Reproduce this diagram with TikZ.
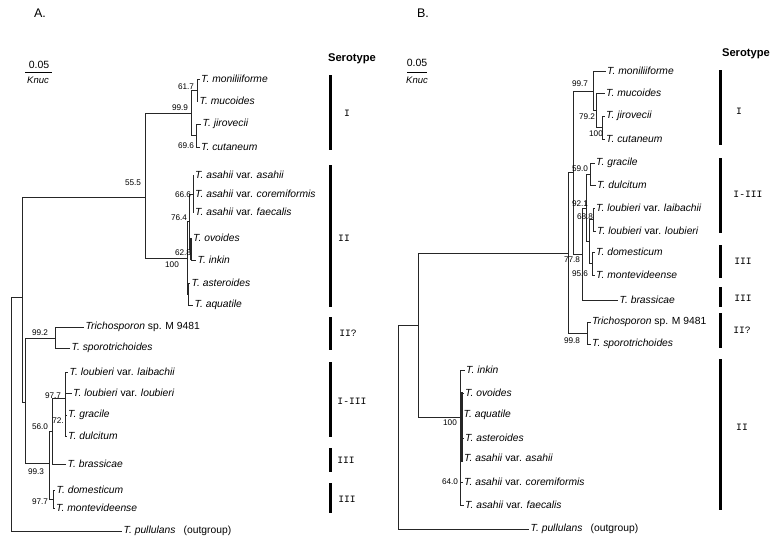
\documentclass[tikz,border=0pt]{standalone}
\usepackage{fontspec}
\setmainfont{Liberation Sans}
\newfontfamily\serofont{Liberation Mono}
\newcommand{\taxit}[1]{\textit{#1}}
\tikzset{
  branch/.style={line width=1pt, black!85, line join=miter},
  thickbranch/.style={line width=1.9pt, black!85},
  taxon/.style={anchor=west, inner sep=1.5pt, font=\fontsize{10.3}{12}\selectfont},
  boot/.style={inner sep=0pt, font=\fontsize{8.2}{9}\selectfont},
  panel/.style={inner sep=0pt, font=\fontsize{12.5}{14}\selectfont},
  scalenum/.style={inner sep=0pt, font=\fontsize{10.5}{12}\selectfont},
  scaleunit/.style={inner sep=0pt, font=\itshape\fontsize{9.5}{11}\selectfont},
  scalebar/.style={line width=0.9pt},
  serohead/.style={inner sep=0pt, font=\bfseries\fontsize{11.2}{13}\selectfont},
  serobar/.style={line width=3pt},
  serolbl/.style={inner sep=0pt, font=\serofont\fontsize{9.7}{11}\selectfont},
}
\begin{document}
\begin{tikzpicture}[x=1pt,y=-1pt]
  \useasboundingbox (0,0) rectangle (778,543);

  % ---------- panel A ----------
  \node[panel] (labA) at (40,13) {A.};
  \node[scalenum] (numA) at (39,65) {0.05};
  \draw[scalebar] (25,72) -- (52,72);
  \node[scaleunit] (unitA) at (38,80) {Knuc};
  \node[serohead] (headA) at (352,59) {Serotype};

  \foreach \n/\x/\y in {aRoot/11/414, a22/22/297, a555/145/197, a999/191/113,
      a617/197/90, a696/196/135.5, a100/187/258, a764/189/221, a666/193/194,
      a628/191/249, aAsAq/188/294, a25/25/402, a992/55/338, a993/49/463,
      a560/52/431, a977/65/398, a72/65.5/425, a977d/53/499}
    \coordinate (\n) at (\x,\y);
  \foreach \p/\c in {aRoot/a22, a22/a555, a22/a25, a555/a999, a555/a100,
      a999/a617, a999/a696, a100/a764, a100/aAsAq, a764/a666, a764/a628,
      a25/a992, a25/a993, a993/a560, a993/a977d, a560/a977, a977/a72}
    \draw[branch] (\p) |- (\c);
  \foreach \p/\n/\x/\y/\t in {
      a617/aMon/199.5/79/\taxit{T. moniliiforme},
      a617/aMuc/198/101/\taxit{T. mucoides},
      a696/aJir/201/124/\taxit{T. jirovecii},
      a696/aCut/199.5/147/\taxit{T. cutaneum},
      a666/aAsa/193.5/175/\taxit{T. asahii} var. \taxit{asahii},
      a666/aCor/193.5/194/\taxit{T. asahii} var. \taxit{coremiformis},
      a666/aFae/193.5/212/\taxit{T. asahii} var. \taxit{faecalis},
      a628/aOvo/191.5/238/\taxit{T. ovoides},
      a628/aInk/196/260/\taxit{T. inkin},
      aAsAq/aAst/190/283/\taxit{T. asteroides},
      aAsAq/aAqu/193/305/\taxit{T. aquatile},
      a992/aTri/84/327/\taxit{Trichosporon} sp. M 9481,
      a992/aSpo/70/348/\taxit{T. sporotrichoides},
      a977/aLai/68/372/\taxit{T. loubieri} var. \taxit{laibachii},
      a977/aLou/71.5/393/\taxit{T. loubieri} var. \taxit{loubieri},
      a72/aGra/66.5/415/\taxit{T. gracile},
      a72/aDul/66.5/436/\taxit{T. dulcitum},
      a560/aBra/66/464/\taxit{T. brassicae},
      a977d/aDom/55/490/\taxit{T. domesticum},
      a977d/aMon2/54.5/508/\taxit{T. montevideense},
      aRoot/aPul/122/531/\taxit{T. pullulans}}
    {\node[taxon] (\n) at (\x,\y) {\t};
     \draw[branch] (\p) |- (\n.west);}
  \node[taxon] (aOutg) at (182,531) {(outgroup)};
  \draw[thickbranch] (a628 |- aOvo.west) -- (a628 |- aInk.west);
  \draw[thickbranch] (a72 |- aGra.west) -- (a72 |- aDul.west);

  \foreach \v/\x/\y [count=\i] in {61.7/186/87, 99.9/180/108, 69.6/186/146,
      55.5/133/183, 66.6/183/195, 76.4/179/218, 62.8/183/253, 100/172/265,
      99.2/40/333, 97.7/53/396, 72./58/421, 56.0/40/427, 99.3/36/472,
      97.7/40/502}
    \node[boot] (bsA\i) at (\x,\y) {\v};

  \foreach \ya/\yb/\t/\lx/\ly [count=\i] in {75/150/I/347/113,
      165/307/II/344/238, 317/350/II?/348/333, 362/437/I-III/352/401,
      448/472/III/346/460, 483/513/III/347/499}
    {\draw[serobar] (330,\ya) -- (330,\yb);
     \node[serolbl] (seroA\i) at (\lx,\ly) {\t};}

  % ---------- panel B ----------
  \node[panel] (labB) at (423,13) {B.};
  \node[scalenum] (numB) at (417,63) {0.05};
  \draw[scalebar] (407,72) -- (427,72);
  \node[scaleunit] (unitB) at (417,80) {Knuc};
  \node[serohead] (headB) at (746,54) {Serotype};

  \foreach \n/\x/\y in {bRoot/398/427, bN418/418/325, bN778/568/253,
      bP/573/172.5, bI/593/91, bM/596/110, bJC/602/127.5, bK/582/254,
      bR/586/208, bG/590/174, bX/589/241.5, bL/593/219.5, bD/592/263.5,
      bTr/587/333, bII/460/417}
    \coordinate (\n) at (\x,\y);
  \foreach \p/\c in {bRoot/bN418, bN418/bN778, bN418/bII, bN778/bP,
      bN778/bTr, bP/bI, bP/bK, bI/bM, bM/bJC, bK/bR, bR/bG, bR/bX,
      bX/bL, bX/bD}
    \draw[branch] (\p) |- (\c);
  \foreach \p/\n/\x/\y/\t in {
      bI/bMon/605.5/71/\taxit{T. moniliiforme},
      bM/bMuc/604.5/93/\taxit{T. mucoides},
      bJC/bJir/604.5/116/\taxit{T. jirovecii},
      bJC/bCut/604.5/139/\taxit{T. cutaneum},
      bG/bGra/594.5/163/\taxit{T. gracile},
      bG/bDul/595.5/185/\taxit{T. dulcitum},
      bL/bLai/594.5/208/\taxit{T. loubieri} var. \taxit{laibachii},
      bL/bLou/595.5/231/\taxit{T. loubieri} var. \taxit{loubieri},
      bD/bDom/594.5/252/\taxit{T. domesticum},
      bD/bMon2/594.5/275/\taxit{T. montevideense},
      bK/bBra/618/300/\taxit{T. brassicae},
      bTr/bTri/590.5/322/\taxit{Trichosporon} sp. M 9481,
      bTr/bSpo/590.5/344/\taxit{T. sporotrichoides},
      bII/bInk/464.5/370/\taxit{T. inkin},
      bII/bOvo/463.5/393/\taxit{T. ovoides},
      bII/bAqu/462/415/\taxit{T. aquatile},
      bII/bAst/463.5/438/\taxit{T. asteroides},
      bII/bAsa/462.5/458/\taxit{T. asahii} var. \taxit{asahii},
      bII/bCor/462.5/482/\taxit{T. asahii} var. \taxit{coremiformis},
      bII/bFae/463.5/505/\taxit{T. asahii} var. \taxit{faecalis},
      bRoot/bPul/529/529/\taxit{T. pullulans}}
    {\node[taxon] (\n) at (\x,\y) {\t};
     \draw[branch] (\p) |- (\n.west);}
  \node[taxon] (bOutg) at (589,529) {(outgroup)};
  \draw[thickbranch] (462,392) -- (462,462);

  \foreach \v/\x/\y [count=\i] in {99.7/580/84, 79.2/587/117, 100/596/134,
      59.0/580/169, 92.1/580/204, 68.8/585/217, 77.8/572/260, 95.6/580/274,
      99.8/572/341, 100/450/423, 64.0/450/482}
    \node[boot] (bsB\i) at (\x,\y) {\v};

  \foreach \ya/\yb/\t/\lx/\ly [count=\i] in {70/145/I/739/111,
      158/233/I-III/748/194, 245/278/III/743/261, 287/307/III/743/298,
      313/348/II?/742/330, 359/510/II/742/427}
    {\draw[serobar] (720,\ya) -- (720,\yb);
     \node[serolbl] (seroB\i) at (\lx,\ly) {\t};}
\end{tikzpicture}
\end{document}
